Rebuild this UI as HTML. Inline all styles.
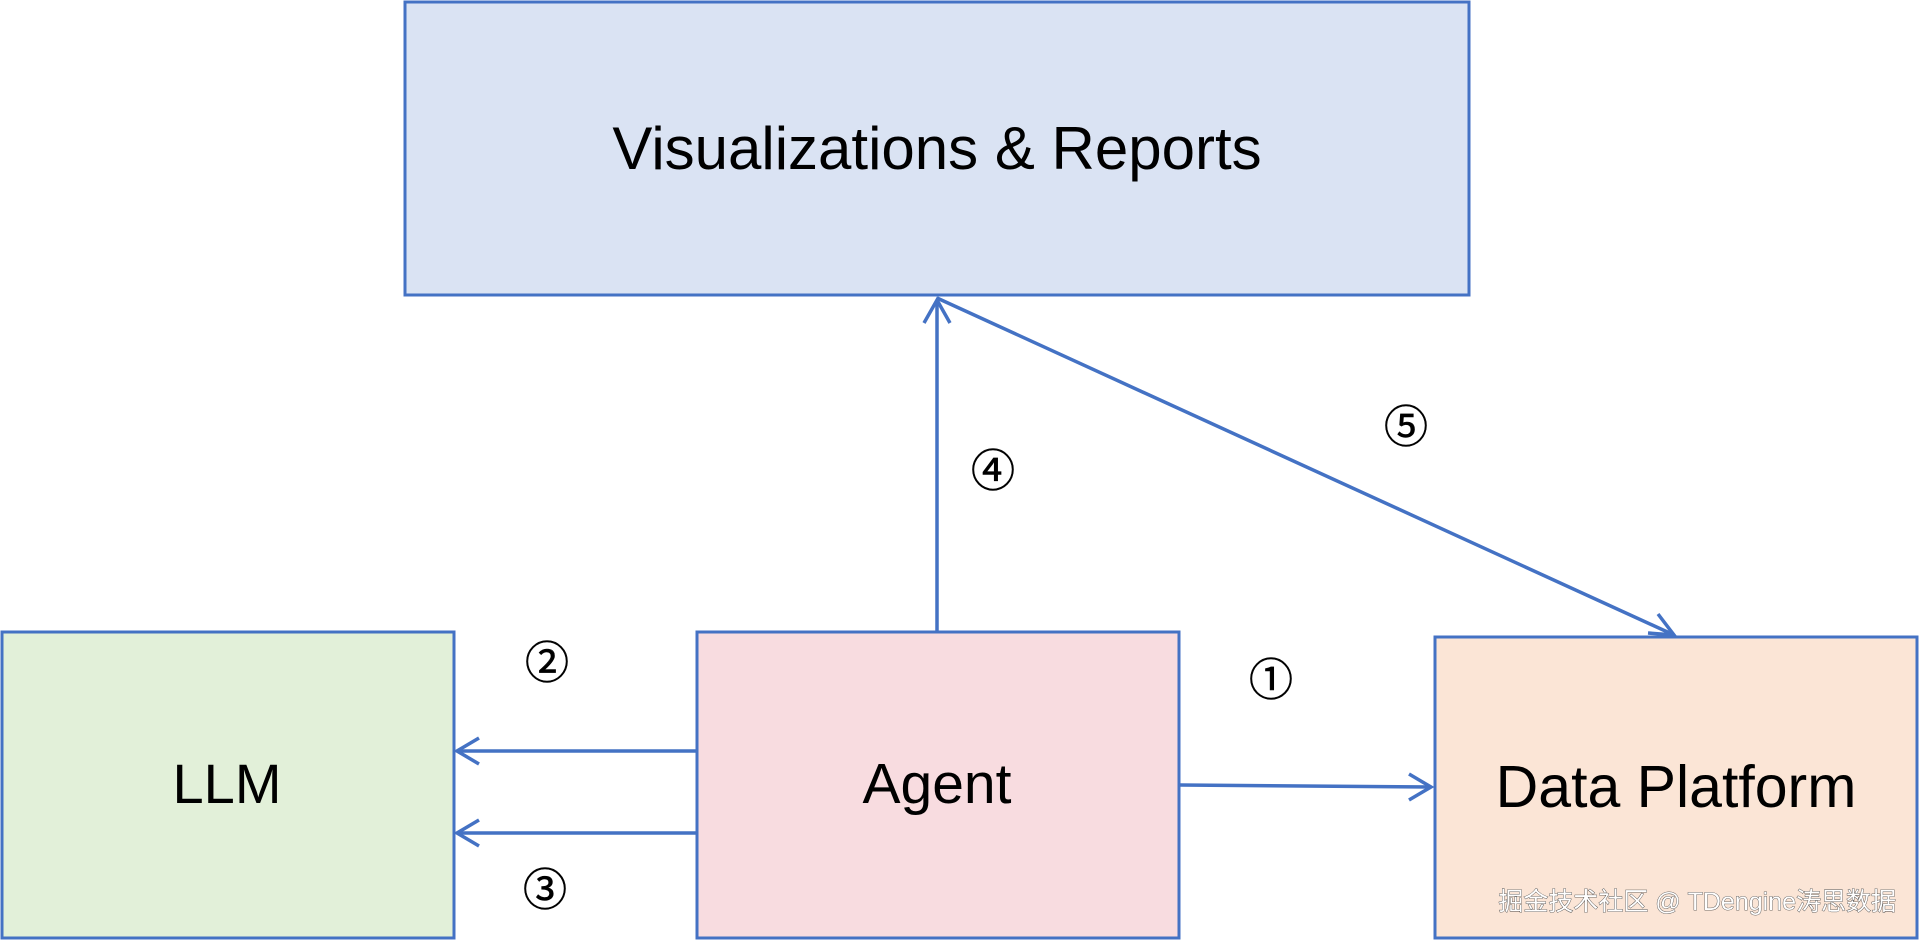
<!DOCTYPE html>
<html><head><meta charset="utf-8"><style>
html,body{margin:0;padding:0;background:#fff;width:1920px;height:942px;overflow:hidden}
svg{display:block}
text{font-family:"Liberation Sans","Noto Sans CJK SC",sans-serif;fill:#000}
</style></head><body>
<svg width="1920" height="942" viewBox="0 0 1920 942">
<rect x="405" y="2" width="1064" height="293" fill="#dae3f3" stroke="#4472c4" stroke-width="3"/>
<rect x="2" y="632" width="452" height="306" fill="#e2f0d9" stroke="#4472c4" stroke-width="3"/>
<rect x="697" y="632" width="482" height="306" fill="#f8dce0" stroke="#4472c4" stroke-width="3"/>
<rect x="1435" y="637" width="482" height="301" fill="#fbe5d6" stroke="#4472c4" stroke-width="3"/>
<text x="937" y="169" font-size="60" text-anchor="middle">Visualizations &amp; Reports</text>
<text x="227" y="803" font-size="56" text-anchor="middle">LLM</text>
<text x="937" y="803" font-size="57" text-anchor="middle">Agent</text>
<text x="1676" y="807" font-size="59" text-anchor="middle">Data Platform</text>
<g stroke="#4472c4" stroke-width="3.5" fill="none">
<line x1="937" y1="631" x2="937" y2="300"/>
<polyline points="924,323 937,300 950,323"/>
<line x1="937" y1="298" x2="1674" y2="635"/>
<polyline points="1648,633 1674,635 1658,614"/>
<line x1="698" y1="751" x2="457" y2="751"/>
<polyline points="479,738 457,751 479,764"/>
<line x1="698" y1="833" x2="457" y2="833"/>
<polyline points="479,820 457,833 479,846"/>
<line x1="1180" y1="785" x2="1431" y2="787"/>
<polyline points="1409,774 1431,787 1409,800"/>
</g>
<g font-size="44" text-anchor="middle" style="stroke:#000;stroke-width:0.6">
<text x="547" y="678">②</text>
<text x="545" y="905">③</text>
<text x="1271" y="695">①</text>
<text x="993" y="486">④</text>
<text x="1406" y="442">⑤</text>
</g>
<text x="1896" y="910" font-size="25" text-anchor="end" style="fill:#fff;stroke:#444;stroke-width:0.8;paint-order:stroke">掘金技术社区 @ TDengine涛思数据</text>
</svg>
</body></html>
